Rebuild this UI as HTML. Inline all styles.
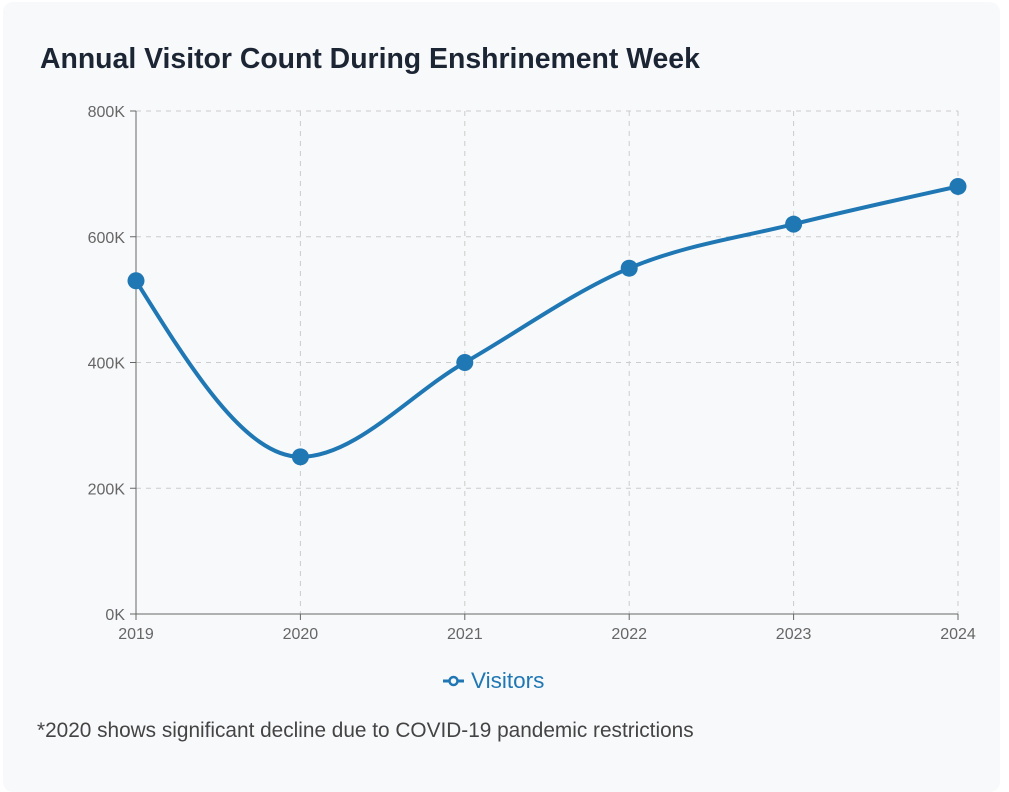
<!DOCTYPE html>
<html><head><meta charset="utf-8"><style>
html,body{margin:0;padding:0;background:#fff;width:1009px;height:775px;overflow:hidden;font-family:"Liberation Sans",sans-serif}
#card{position:absolute;left:3px;top:2px;width:997px;height:790px;background:#f8f9fb;border-radius:10px}
#title{position:absolute;left:37px;top:41px;font-size:28.4px;font-weight:bold;color:#1c2533;margin:0}
#note{position:absolute;left:37px;top:719px;font-size:20.8px;color:#444}
svg{position:absolute;left:0;top:0}
</style></head><body>
<div id="card">
<h1 id="title">Annual Visitor Count During Enshrinement Week</h1>
</div>
<svg id="chart" width="1009" height="775"></svg>
<div id="note">*2020 shows significant decline due to COVID-19 pandemic restrictions</div>
<script>
const years=["2019","2020","2021","2022","2023","2024"];
const visitors=[530000,250000,400000,550000,620000,680000];
const yTicks=[0,200000,400000,600000,800000];
const yTickLabels=["0K","200K","400K","600K","800K"];
const NS="http://www.w3.org/2000/svg";
const svg=document.getElementById('chart');
const X0=136,X1=958,Y0=614,Y1=111,YMAX=800000;
const xs=i=>X0+(X1-X0)*i/(years.length-1);
const ys=v=>Y0-(Y0-Y1)*v/YMAX;
function mk(t,a,p){const e=document.createElementNS(NS,t);for(const k in a)e.setAttribute(k,a[k]);(p||svg).appendChild(e);return e;}
yTicks.forEach((t,i)=>{
 if(t>0){const g=mk('line',{x1:X0,x2:X1,y1:ys(t),y2:ys(t),stroke:'#ccc','stroke-dasharray':'5 5'});
 
 }
 const tk=mk('line',{x1:X0-6,x2:X0,y1:ys(t),y2:ys(t),stroke:'#666'});
 
 
 const l=mk('text',{x:X0-11,y:ys(t)+6,'text-anchor':'end','font-size':16,fill:'#666'});
 l.textContent=yTickLabels[i];
 
 
});
years.forEach((y,i)=>{
 if(i>0){const g=mk('line',{x1:xs(i),x2:xs(i),y1:Y1,y2:Y0,stroke:'#ccc','stroke-dasharray':'5 5'});
 
 }
 const tk=mk('line',{x1:xs(i),x2:xs(i),y1:Y0,y2:Y0+6,stroke:'#666'});
 
 
 const l=mk('text',{x:xs(i),y:Y0+25,'text-anchor':'middle','font-size':16,fill:'#666'});
 l.textContent=y;
 
 
});
const ax=mk('line',{x1:X0,x2:X0,y1:Y1,y2:Y0,stroke:'#666'});


const bx=mk('line',{x1:X0,x2:X1,y1:Y0,y2:Y0,stroke:'#666'});


const px=years.map((_,i)=>xs(i)),py=visitors.map(ys),n=px.length;
const d=[],m=[];
for(let i=0;i<n-1;i++)d.push((py[i+1]-py[i])/(px[i+1]-px[i]));
for(let i=0;i<n;i++){
 if(i==0)m.push(d[0]);else if(i==n-1)m.push(d[n-2]);
 else{if(d[i-1]*d[i]<=0)m.push(0);else{const h0=px[i]-px[i-1],h1=px[i+1]-px[i];
 const p=(d[i-1]*h1+d[i]*h0)/(h0+h1);m.push((Math.sign(d[i-1])+Math.sign(d[i]))*Math.min(Math.abs(d[i-1]),Math.abs(d[i]),0.5*Math.abs(p)));}}
}
const h=(i)=>px[i+1]-px[i];
m[0]=(3*d[0]-m[1])/2; m[n-1]=(3*d[n-2]-m[n-2])/2;
let path=`M${px[0]},${py[0]}`;
for(let i=0;i<n-1;i++){const dx=h(i)/3;path+=`C${px[i]+dx},${py[i]+dx*m[i]} ${px[i+1]-dx},${py[i+1]-dx*m[i+1]} ${px[i+1]},${py[i+1]}`;}
const line=mk('path',{d:path,fill:'none',stroke:'#1f77b4','stroke-width':4});


visitors.forEach((v,i)=>{
 const c=mk('circle',{cx:xs(i),cy:ys(v),r:8.5,fill:'#1f77b4'});
 
 
});
const lg=mk('g',{});


mk('line',{x1:443,x2:464,y1:681,y2:681,stroke:'#1f77b4','stroke-width':3},lg);
mk('circle',{cx:453.5,cy:681,r:4,fill:'#f8f9fb',stroke:'#1f77b4','stroke-width':2.5},lg);
const lt=mk('text',{x:471,y:688,'font-size':22.5,fill:'#1f77b4'},lg);
lt.textContent='Visitors';
</script>
</body></html>
